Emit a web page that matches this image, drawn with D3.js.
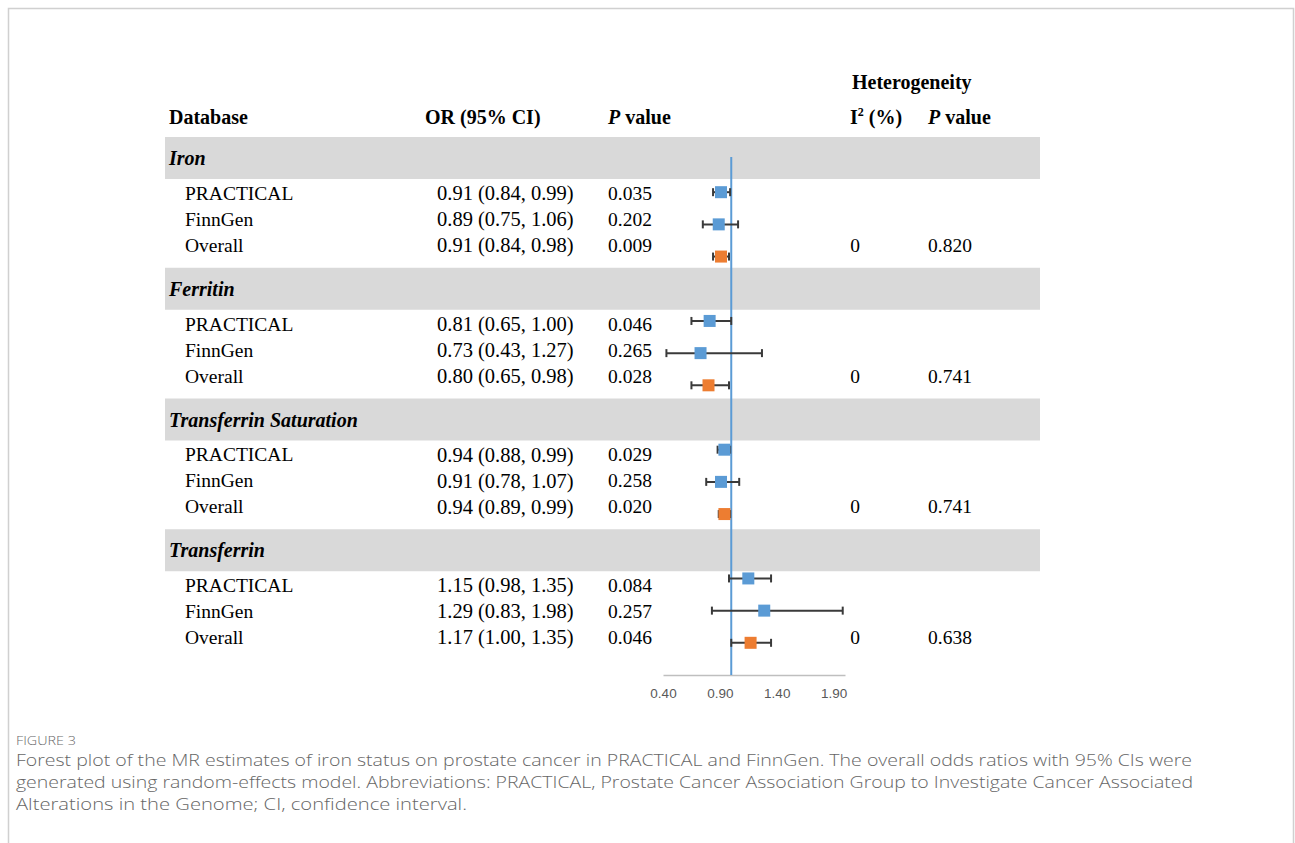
<!DOCTYPE html>
<html lang="en">
<head>
    <meta charset="utf-8">
    <title>Figure 3</title>
    <script src="https://cdn.jsdelivr.net/npm/d3@7"></script>
    <style type="text/css">
    	body { margin: 0; background: #fff; }
    	svg { display: block; }
    </style>
</head>
<body>
    <script type="text/javascript">
    // data
    var groups = ["Iron", "Ferritin", "Transferrin Saturation", "Transferrin"];
    var rowLabels = ["PRACTICAL", "FinnGen", "Overall"];
    var orVals = [[0.91, 0.89, 0.91], [0.81, 0.73, 0.80], [0.94, 0.91, 0.94], [1.15, 1.29, 1.17]];
    var ciLow  = [[0.84, 0.75, 0.84], [0.65, 0.43, 0.65], [0.88, 0.78, 0.89], [0.98, 0.83, 1.00]];
    var ciHigh = [[0.99, 1.06, 0.98], [1.00, 1.27, 0.98], [0.99, 1.07, 0.99], [1.35, 1.98, 1.35]];
    var pVals  = [["0.035", "0.202", "0.009"], ["0.046", "0.265", "0.028"], ["0.029", "0.258", "0.020"], ["0.084", "0.257", "0.046"]];
    var i2Vals = ["0", "0", "0", "0"];
    var hetP   = ["0.820", "0.741", "0.741", "0.638"];
    var xTicks = [0.40, 0.90, 1.40, 1.90];

    var width = 1295, height = 843;
    var serif = "'Liberation Serif', 'Times New Roman', serif";

    var svg = d3.select("body").append("svg")
        .attr("width", width)
        .attr("height", height);

    // frame of the figure box
    svg.append("path")
        .attr("d", "M8.5," + height + "V8.5H1293.5V" + height)
        .attr("fill", "none")
        .attr("stroke", "#d0d0d0")
        .attr("stroke-width", 1.5);

    // flatten rows
    var rows = [];
    groups.forEach(function(g, gi){
        rowLabels.forEach(function(r, ri){
            rows.push({g: gi, r: ri, label: r, or: orVals[gi][ri], lo: ciLow[gi][ri], hi: ciHigh[gi][ri], p: pVals[gi][ri]});
        });
    });

    // table layout
    var groupTop = d3.scaleLinear().domain([0, 4]).range([137, 660]);
    var bandH = 42, rowStep = 26;
    function rowY(d){ return groupTop(d.g) + bandH + 14 + d.r * rowStep; }

    // grey group bands
    svg.selectAll("rect.band")
        .data(groups)
        .enter()
        .append("rect")
        .attr("class", "band")
        .attr("x", 165)
        .attr("y", function(d, i){ return groupTop(i); })
        .attr("width", 1040 - 165)
        .attr("height", bandH)
        .attr("fill", "#d9d9d9");

    // plot scales
    var x = d3.scaleLinear().domain([0.4, 2.0]).range([663, 845]);
    var y = d3.scaleLinear().domain([0, 16]).range([160, 675]);   //slot index -> y

    // axis
    var axis = svg.append("g")
        .attr("transform", "translate(0," + y(16) + ")")
        .call(d3.axisBottom(x).tickValues(xTicks).tickFormat(d3.format(".2f")).tickSize(0).tickPadding(13));
    axis.select(".domain").attr("stroke", "#bfbfbf").attr("stroke-width", 1.5);
    axis.selectAll("text")
        .attr("font-family", "'Liberation Sans', Arial, sans-serif")
        .attr("font-size", 13.5)
        .attr("fill", "#595959");

    // reference line at OR = 1
    svg.append("line")
        .attr("x1", x(1)).attr("x2", x(1))
        .attr("y1", 157).attr("y2", y(16))
        .attr("stroke", "#5b9bd5")
        .attr("stroke-width", 2);

    // whiskers
    var ci = svg.selectAll("g.ci")
        .data(rows)
        .enter()
        .append("g")
        .attr("class", "ci")
        .attr("stroke", "#3a3a3a")
        .attr("stroke-width", 2);
    ci.append("line")
        .attr("x1", function(d){ return x(d.lo); })
        .attr("x2", function(d){ return x(d.hi); })
        .attr("y1", function(d){ return y(d.g * 4 + d.r + 1); })
        .attr("y2", function(d){ return y(d.g * 4 + d.r + 1); });
    ["lo", "hi"].forEach(function(k){
        ci.append("line")
            .attr("x1", function(d){ return x(d[k]); })
            .attr("x2", function(d){ return x(d[k]); })
            .attr("y1", function(d){ return y(d.g * 4 + d.r + 1) - 4; })
            .attr("y2", function(d){ return y(d.g * 4 + d.r + 1) + 4; });
    });

    // point estimates
    var sz = 12;
    svg.selectAll("rect.pt")
        .data(rows)
        .enter()
        .append("rect")
        .attr("class", "pt")
        .attr("x", function(d){ return x(d.or) - sz / 2; })
        .attr("y", function(d){ return y(d.g * 4 + d.r + 1) - sz / 2; })
        .attr("width", sz)
        .attr("height", sz)
        .attr("fill", function(d){ return d.r == 2 ? "#ed7d31" : "#5b9bd5"; });

    // headers
    var head = svg.append("g")
        .attr("font-family", serif)
        .attr("font-size", 20)
        .attr("font-weight", "bold")
        .attr("fill", "#000");
    head.append("text").attr("x", 169).attr("y", 124).text("Database");
    head.append("text").attr("x", 425).attr("y", 124).text("OR (95% CI)");
    var ph = head.append("text").attr("x", 608).attr("y", 124);
    ph.append("tspan").attr("font-style", "italic").text("P");
    ph.append("tspan").text(" value");
    head.append("text").attr("x", 852).attr("y", 89).text("Heterogeneity");
    var ih = head.append("text").attr("x", 850).attr("y", 124);
    ih.append("tspan").text("I");
    ih.append("tspan").attr("font-size", 12).attr("dy", -8).text("2");
    ih.append("tspan").attr("dy", 8).text(" (%)");
    var ph2 = head.append("text").attr("x", 928).attr("y", 124);
    ph2.append("tspan").attr("font-style", "italic").text("P");
    ph2.append("tspan").text(" value");

    // group titles
    svg.selectAll("text.grp")
        .data(groups)
        .enter()
        .append("text")
        .attr("class", "grp")
        .attr("x", 169)
        .attr("y", function(d, i){ return groupTop(i) + bandH / 2; })
        .attr("dy", "0.35em")
        .attr("font-family", serif)
        .attr("font-size", 20)
        .attr("font-weight", "bold")
        .attr("font-style", "italic")
        .text(function(d){ return d; });

    // row text
    var cols = [
        {x: 185, s: 19.5, f: function(d){ return d.label; }},
        {x: 437, s: 20.5, f: function(d){ return d.or.toFixed(2) + " (" + d.lo.toFixed(2) + ", " + d.hi.toFixed(2) + ")"; }},
        {x: 608, s: 19.5, f: function(d){ return d.p; }}
    ];
    cols.forEach(function(c){
        svg.selectAll(null)
            .data(rows)
            .enter()
            .append("text")
            .attr("x", c.x)
            .attr("y", rowY)
            .attr("dy", "0.35em")
            .attr("font-family", serif)
            .attr("font-size", c.s)
            .text(c.f);
    });

    // heterogeneity values on the Overall rows
    var overall = rows.filter(function(d){ return d.r == 2; });
    svg.selectAll(null)
        .data(overall)
        .enter()
        .append("text")
        .attr("x", 855)
        .attr("y", rowY)
        .attr("dy", "0.35em")
        .attr("text-anchor", "middle")
        .attr("font-family", serif)
        .attr("font-size", 19.5)
        .text(function(d){ return i2Vals[d.g]; });
    svg.selectAll(null)
        .data(overall)
        .enter()
        .append("text")
        .attr("x", 928)
        .attr("y", rowY)
        .attr("dy", "0.35em")
        .attr("font-family", serif)
        .attr("font-size", 19.5)
        .text(function(d){ return hetP[d.g]; });

    // caption
    var sans = "'Open Sans', 'Noto Sans', sans-serif";
    svg.append("text")
        .attr("x", 16).attr("y", 745)
        .attr("font-family", sans)
        .attr("font-size", 13)
        .attr("font-weight", 300)
        .attr("fill", "#6a6a6a")
        .attr("textLength", 60)
        .attr("lengthAdjust", "spacingAndGlyphs")
        .text("FIGURE 3");
    var capLines = [
        {t: "Forest plot of the MR estimates of iron status on prostate cancer in PRACTICAL and FinnGen. The overall odds ratios with 95% CIs were", w: 1176},
        {t: "generated using random-effects model. Abbreviations: PRACTICAL, Prostate Cancer Association Group to Investigate Cancer Associated", w: 1177},
        {t: "Alterations in the Genome; CI, confidence interval.", w: 451}
    ];
    svg.selectAll("text.cap")
        .data(capLines)
        .enter()
        .append("text")
        .attr("class", "cap")
        .attr("x", 16)
        .attr("y", function(d, i){ return 766 + i * 22; })
        .attr("font-family", sans)
        .attr("font-size", 17)
        .attr("font-weight", 300)
        .attr("fill", "#666")
        .attr("textLength", function(d){ return d.w; })
        .attr("lengthAdjust", "spacingAndGlyphs")
        .text(function(d){ return d.t; });
    </script>
</body>
</html>
